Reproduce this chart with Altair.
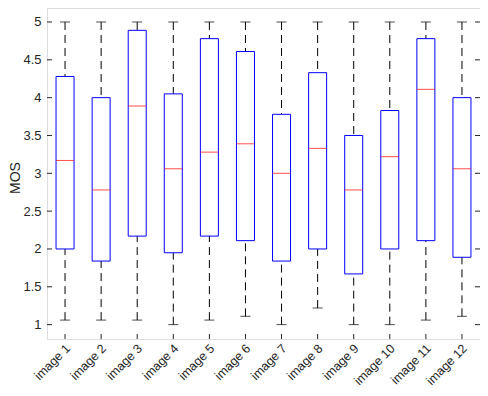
import altair as alt
import pandas as pd

categories = [f"image {i}" for i in range(1, 13)]
upper_whisker = [5, 5, 5, 5, 5, 5, 5, 5, 5, 5, 5, 5]
q3 = [4.28, 4.0, 4.89, 4.05, 4.78, 4.61, 3.78, 4.33, 3.5, 3.83, 4.78, 4.0]
median = [3.17, 2.78, 3.89, 3.06, 3.28, 3.39, 3.0, 3.33, 2.78, 3.22, 4.11, 3.06]
q1 = [2.0, 1.84, 2.17, 1.95, 2.17, 2.11, 1.84, 2.0, 1.67, 2.0, 2.11, 1.89]
lower_whisker = [1.06, 1.06, 1.06, 1.0, 1.06, 1.11, 1.0, 1.22, 1.0, 1.0, 1.06, 1.11]
y_ticks = [1, 1.5, 2, 2.5, 3, 3.5, 4, 4.5, 5]

W, H = 433, 331
AX = "#262626"

df = pd.DataFrame({
    "image": categories, "hi": upper_whisker, "q3": q3,
    "median": median, "q1": q1, "lo": lower_whisker,
})
ticks_df = pd.DataFrame({"tick": y_ticks})

xs = alt.Scale(type="band", paddingInner=0, paddingOuter=0)
ys = alt.Scale(domain=[0.81, 5.185], nice=False, zero=False)


def X():
    return alt.X("image:N", sort=categories, scale=xs, title=None,
                 axis=alt.Axis(labelAngle=-45, labelAlign="right", labelBaseline="middle",
                               labelPadding=7, labelOffset=3, ticks=False, domain=False, grid=False,
                               labelFont="Liberation Sans", labelFontSize=12.5, labelColor=AX))


def Y(field):
    return alt.Y(field, scale=ys, title="MOS",
                 axis=alt.Axis(values=y_ticks, format="~g", ticks=False, domain=False, grid=False,
                               labelPadding=6, labelFont="Liberation Sans", labelFontSize=13,
                               labelColor=AX, titleFont="Liberation Sans", titleFontSize=14,
                               titleFontWeight="normal", titleColor=AX,
                               titleAngle=270, titleX=-25, titleY=H / 2 + 4,
                               titleAlign="center", titleBaseline="bottom"))


base = alt.Chart(df)

upper = base.mark_rule(color="black", strokeWidth=1, strokeDash=[8, 5]).encode(
    x=X(), y=Y("hi:Q"), y2="q3:Q")
lower = base.mark_rule(color="black", strokeWidth=1, strokeDash=[8, 5]).encode(
    x=X(), y=Y("lo:Q"), y2="q1:Q")
cap_hi = base.mark_tick(color="black", size=10, thickness=1, orient="horizontal").encode(
    x=X(), y=Y("hi:Q"))
cap_lo = base.mark_tick(color="black", size=10, thickness=1, orient="horizontal").encode(
    x=X(), y=Y("lo:Q"))
box = base.mark_bar(size=18, fill="white", stroke="#0000ff", strokeWidth=1).encode(
    x=X(), y=Y("q1:Q"), y2="q3:Q")
med = base.mark_tick(color="#ff0000", size=18, thickness=1, orient="horizontal").encode(
    x=X(), y=Y("median:Q"))

tick_chart = alt.Chart(ticks_df)
left_ticks = tick_chart.mark_rule(color=AX, strokeWidth=1).encode(
    y=Y("tick:Q"), x=alt.value(0), x2=alt.value(5))
right_ticks = tick_chart.mark_rule(color=AX, strokeWidth=1).encode(
    y=Y("tick:Q"), x=alt.value(W - 5), x2=alt.value(W))
bottom_ticks = base.mark_rule(color=AX, strokeWidth=1).encode(
    x=X(), y=alt.value(H), y2=alt.value(H - 5))

chart = alt.layer(
    upper, lower, cap_hi, cap_lo, box, med, left_ticks, right_ticks, bottom_ticks
).properties(
    width=W, height=H,
    autosize=alt.AutoSizeParams(type="none"),
    padding={"left": 39, "top": 0, "right": 0, "bottom": 48},
).configure_view(stroke=AX, strokeWidth=1).configure(background="white")

chart.save("out.html", embed_options={"renderer": "svg", "actions": False})
